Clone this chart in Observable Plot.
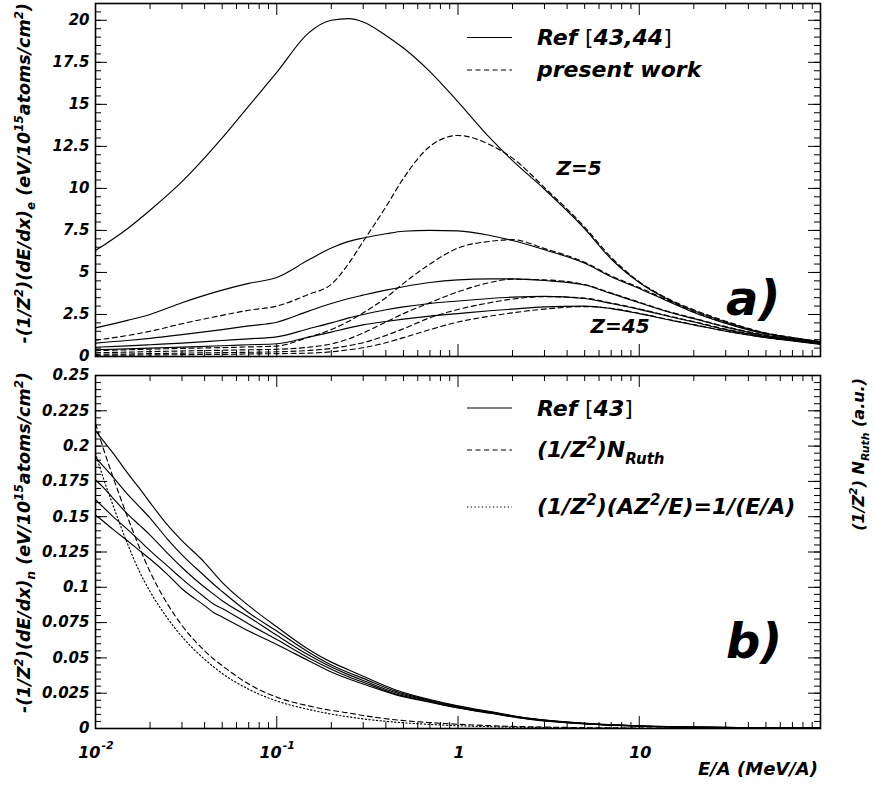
<!DOCTYPE html>
<html><head><meta charset="utf-8">
<script src="https://cdn.jsdelivr.net/npm/d3@7"></script>
<script src="https://cdn.jsdelivr.net/npm/@observablehq/plot@0.6"></script>
<style>
body{margin:0;background:#fff;}
#fig{position:relative;width:874px;height:787px;overflow:hidden;background:#fff;}
#fig svg{position:absolute;left:0;}
</style></head><body><div id="fig"></div>
<script>
// ---------- DATA ----------
// Panel a) electronic stopping, E/A grid (MeV/A)
const energyTop = [0.01,0.015,0.02,0.03,0.05,0.07,0.1,0.15,0.2,0.25,0.3,0.4,0.5,0.7,1,1.5,2,3,5,7,10,15,20,30,50,70,100];
const refZ5  = [6.3,7.6,8.7,10.4,13.0,14.9,16.9,19.25,20.0,20.1,19.9,19.1,18.35,16.95,15.15,13.0,11.65,9.95,7.6,5.8,4.4,3.3,2.72,2.05,1.38,1.12,0.88];
const refZ10 = [1.7,2.15,2.5,3.2,3.95,4.35,4.7,5.75,6.45,6.85,7.05,7.3,7.45,7.5,7.47,7.2,6.9,6.35,5.55,4.75,4.05,3.2,2.62,1.97,1.34,1.08,0.85];
const refZ20 = [0.8,0.95,1.08,1.3,1.6,1.82,2.04,2.7,3.15,3.45,3.65,3.95,4.15,4.4,4.56,4.62,4.62,4.52,4.25,3.75,3.2,2.6,2.25,1.75,1.25,1.02,0.8];
const refZ30 = [0.55,0.63,0.7,0.8,0.95,1.05,1.17,1.65,2.0,2.3,2.5,2.78,2.95,3.15,3.3,3.45,3.53,3.58,3.45,3.15,2.8,2.35,2.05,1.6,1.18,0.97,0.76];
const refZ45 = [0.4,0.45,0.5,0.56,0.64,0.7,0.76,1.15,1.45,1.7,1.88,2.08,2.22,2.4,2.55,2.72,2.82,2.95,3.0,2.85,2.55,2.15,1.88,1.5,1.12,0.93,0.72];
const presZ5  = [0.97,1.25,1.5,1.95,2.45,2.75,3.0,3.7,4.3,5.55,6.85,8.9,10.6,12.5,13.15,12.6,11.8,10.05,7.7,5.9,4.45,3.35,2.78,2.1,1.4,1.13,0.88];
const presZ10 = [0.35,0.4,0.44,0.48,0.53,0.57,0.62,1.15,1.6,2.1,2.6,3.5,4.35,5.5,6.45,6.85,6.95,6.42,5.6,4.8,4.1,3.25,2.66,2.0,1.36,1.1,0.86];
const presZ20 = [0.22,0.26,0.29,0.33,0.37,0.4,0.43,0.55,0.75,1.05,1.4,2.05,2.55,3.2,3.85,4.4,4.6,4.56,4.28,3.78,3.23,2.63,2.28,1.78,1.27,1.03,0.81];
const presZ30 = [0.13,0.15,0.17,0.2,0.23,0.25,0.28,0.36,0.48,0.65,0.82,1.25,1.65,2.3,2.8,3.2,3.42,3.56,3.47,3.18,2.83,2.38,2.08,1.63,1.2,0.98,0.77];
const presZ45 = [0.07,0.08,0.09,0.11,0.13,0.15,0.17,0.2,0.28,0.4,0.52,0.82,1.12,1.6,2.05,2.4,2.6,2.82,2.97,2.87,2.57,2.17,1.9,1.52,1.13,0.94,0.73];

// Panel b) nuclear stopping
const energyBottom = [0.01,0.011,0.0125,0.015,0.0175,0.02,0.025,0.03,0.04,0.045,0.05,0.07,0.1,0.15,0.2,0.25,0.3,0.45,0.7,1,1.5,2.5,5,10,20,50,100];
const nuc1 = [0.211,0.204,0.195,0.181,0.170,0.160,0.144,0.133,0.1175,0.110,0.1035,0.087,0.072,0.056,0.047,0.0415,0.037,0.0275,0.0205,0.016,0.012,0.0072,0.0037,0.0019,0.001,0.00045,0.00025];
const nuc2 = [0.192,0.186,0.178,0.166,0.157,0.149,0.134,0.123,0.108,0.102,0.097,0.082,0.069,0.054,0.045,0.0395,0.0355,0.0265,0.020,0.0156,0.0117,0.0070,0.0036,0.00185,0.00097,0.00044,0.00024];
const nuc3 = [0.176,0.171,0.163,0.152,0.144,0.137,0.124,0.114,0.100,0.095,0.0905,0.079,0.066,0.052,0.0435,0.038,0.034,0.0255,0.0195,0.0152,0.0114,0.0068,0.0035,0.0018,0.00095,0.00043,0.00023];
const nuc4 = [0.162,0.157,0.150,0.141,0.133,0.126,0.115,0.106,0.093,0.088,0.085,0.074,0.063,0.050,0.042,0.0365,0.0328,0.0245,0.019,0.0148,0.0111,0.0066,0.0034,0.00175,0.00093,0.00042,0.00023];
const nuc5 = [0.151,0.147,0.141,0.133,0.126,0.120,0.109,0.099,0.087,0.082,0.079,0.069,0.0595,0.048,0.040,0.035,0.0315,0.024,0.0186,0.0145,0.0108,0.0065,0.0033,0.0017,0.0009,0.0004,0.00022];
const ruthN  = [0.216,0.199,0.178,0.150,0.128,0.111,0.088,0.073,0.055,0.049,0.0445,0.0315,0.0222,0.016,0.0128,0.011,0.0092,0.0062,0.0042,0.003,0.002,0.0012,0.0006,0.0003,0.00015,0.00006,0.00003];
const inverseE = [0.195,0.178,0.158,0.131,0.111,0.097,0.078,0.065,0.049,0.0435,0.039,0.0278,0.0195,0.0135,0.0102,0.0082,0.0068,0.0045,0.0029,0.002,0.0013,0.0008,0.0004,0.0002,0.0001,0.00004,0.00002];

// axes / labels
const xDomain = [0.01, 100];
const xLabelValues = [0.01, 0.1, 1, 10];
const xLabelBase = ["10", "10", "1", "10"];
const xLabelExp  = ["-2", "-1", "", ""];
const yTopDomain = [0, 21];
const yTopLabels = [0, 2.5, 5, 7.5, 10, 12.5, 15, 17.5, 20];
const yBotDomain = [0, 0.25];
const yBotLabels = [0, 0.025, 0.05, 0.075, 0.1, 0.125, 0.15, 0.175, 0.2, 0.225, 0.25];
const topNotes = [{E: 3.5, v: 10.77, text: "Z=5"}, {E: 5.38, v: 1.37, text: "Z=45"}];
const panelTagTop = [{E: 30.1, v: 2.44, text: "a)"}];
const panelTagBot = [{E: 30.1, v: 0.0496, text: "b)"}];

// ---------- build tables ----------
const toRows = (xs, ys, s) => xs.map((E, i) => ({E, v: ys[i], s}));
const topRef = [refZ5, refZ10, refZ20, refZ30, refZ45].flatMap((ys, k) => toRows(energyTop, ys, "r" + k));
const topPres = [presZ5, presZ10, presZ20, presZ30, presZ45].flatMap((ys, k) => toRows(energyTop, ys, "p" + k));
const botRef = [nuc1, nuc2, nuc3, nuc4, nuc5].flatMap((ys, k) => toRows(energyBottom, ys, "n" + k));
const botRuth = toRows(energyBottom, ruthN, "ruth");
const botInv = toRows(energyBottom, inverseE, "inv");

const xMajor = [0.01, 0.1, 1, 10, 100];
const xMinor = [];
for (const d of [0.01, 0.1, 1, 10]) for (let m = 2; m <= 9; m++) xMinor.push(+(d * m).toPrecision(3));
const stepTicks = (lo, hi, step) => d3.range(Math.round((hi - lo) / step) + 1).map(i => +(lo + i * step).toFixed(6));

const W = 874, mL = 95, mR = 54;
const font = "font-family:'DejaVu Sans';font-weight:bold;font-style:italic;";

function frameTicks(innerW, innerH, yMaj, yMin) {
  const L = 12, l = 6, sw = 1;
  return [
    Plot.tickX(xMajor, {x: d => d, insetTop: innerH - L, stroke: "black", strokeWidth: sw}),
    Plot.tickX(xMajor, {x: d => d, insetBottom: innerH - L, stroke: "black", strokeWidth: sw}),
    Plot.tickX(xMinor, {x: d => d, insetTop: innerH - l, stroke: "black", strokeWidth: sw}),
    Plot.tickX(xMinor, {x: d => d, insetBottom: innerH - l, stroke: "black", strokeWidth: sw}),
    Plot.tickY(yMaj, {y: d => d, insetRight: innerW - L, stroke: "black", strokeWidth: sw}),
    Plot.tickY(yMaj, {y: d => d, insetLeft: innerW - L, stroke: "black", strokeWidth: sw}),
    Plot.tickY(yMin, {y: d => d, insetRight: innerW - l, stroke: "black", strokeWidth: sw}),
    Plot.tickY(yMin, {y: d => d, insetLeft: innerW - l, stroke: "black", strokeWidth: sw})
  ];
}
const yLabelMark = (labels) => Plot.text(labels, {y: d => d, text: d => String(d), frameAnchor: "left", textAnchor: "end", dx: -6, fontSize: 15, fill: "black"});
const lineOpts = {x: "E", y: "v", z: "s", stroke: "black", strokeWidth: 1.15, curve: "monotone-x"};

// ---------- top panel ----------
const topH = 365, topMT = 3, topMB = 9;
const topInnerW = W - mL - mR, topInnerH = topH - topMT - topMB;
const topPlot = Plot.plot({
  width: W, height: topH, marginLeft: mL, marginRight: mR, marginTop: topMT, marginBottom: topMB,
  style: font + "background:transparent;",
  x: {type: "log", domain: xDomain, axis: null},
  y: {domain: yTopDomain, axis: null},
  marks: [
    Plot.line(topRef, lineOpts),
    Plot.line(topPres, {...lineOpts, strokeDasharray: "5,3.5"}),
    ...frameTicks(topInnerW, topInnerH, stepTicks(0, 20, 2.5), stepTicks(0, 21, 0.5)),
    Plot.frame({stroke: "black", strokeWidth: 1.6}),
    yLabelMark(yTopLabels),
    Plot.text(topNotes, {x: "E", y: "v", text: "text", textAnchor: "start", lineAnchor: "bottom", fontSize: 20, fill: "black"}),
    Plot.text(panelTagTop, {x: "E", y: "v", text: "text", textAnchor: "start", lineAnchor: "bottom", fontSize: 48, fill: "black"})
  ]
});
topPlot.style.top = "0px";

// ---------- bottom panel ----------
const botH = 422, botMT = 10, botMB = 59;
const botInnerW = W - mL - mR, botInnerH = botH - botMT - botMB;
const xLabelRows = xLabelValues.map((x, i) => ({x, base: xLabelBase[i], exp: xLabelExp[i]}));
const botPlot = Plot.plot({
  width: W, height: botH, marginLeft: mL, marginRight: mR, marginTop: botMT, marginBottom: botMB,
  style: font + "background:transparent;",
  x: {type: "log", domain: xDomain, axis: null},
  y: {domain: yBotDomain, axis: null},
  marks: [
    Plot.line(botRef, lineOpts),
    Plot.line(botRuth, {...lineOpts, strokeDasharray: "5,3.5"}),
    Plot.line(botInv, {...lineOpts, strokeDasharray: "1.3,2.4"}),
    ...frameTicks(botInnerW, botInnerH, stepTicks(0, 0.25, 0.025), stepTicks(0, 0.25, 0.005)),
    Plot.frame({stroke: "black", strokeWidth: 1.6}),
    yLabelMark(yBotLabels),
    Plot.text(xLabelRows.filter(d => d.exp), {x: "x", text: "base", frameAnchor: "bottom", textAnchor: "end", lineAnchor: "bottom", dx: 5, dy: 29, fontSize: 16, fill: "black"}),
    Plot.text(xLabelRows.filter(d => d.exp), {x: "x", text: "exp", frameAnchor: "bottom", textAnchor: "start", lineAnchor: "bottom", dx: 6, dy: 20, fontSize: 11, fill: "black"}),
    Plot.text(xLabelRows.filter(d => !d.exp), {x: "x", text: "base", frameAnchor: "bottom", textAnchor: "middle", lineAnchor: "bottom", dx: 1, dy: 29, fontSize: 16, fill: "black"}),
    Plot.text(panelTagBot, {x: "E", y: "v", text: "text", textAnchor: "start", lineAnchor: "bottom", fontSize: 48, fill: "black"})
  ]
});
botPlot.style.top = "365px";

const fig = document.getElementById("fig");
fig.appendChild(topPlot);
fig.appendChild(botPlot);

// ---------- overlay: axis titles & legends ----------
const ov = d3.select(fig).append("svg").attr("width", W).attr("height", 787)
  .style("top", "0px").style("pointer-events", "none")
  .attr("font-family", "DejaVu Sans").attr("font-weight", "bold").attr("font-style", "italic").attr("fill", "black");

function rich(x, y, parts, size, anchor = "start", rotate = 0) {
  const t = ov.append("text").attr("transform", `translate(${x},${y}) rotate(${rotate})`)
    .attr("text-anchor", anchor).attr("font-size", size);
  let shift = 0;
  for (const p of parts) {
    const s = typeof p === "string" ? {t: p} : p;
    const target = s.sup ? -0.42 * size : s.sub ? 0.3 * size : 0;
    const ts = t.append("tspan").text(s.t).attr("dy", (target - shift).toFixed(2));
    if (s.sup || s.sub) ts.attr("font-size", (size * 0.68).toFixed(1));
    if (s.plain) ts.attr("font-weight", "normal").attr("font-style", "normal");
    shift = target;
  }
}
const sup = t => ({t, sup: true}), sub = t => ({t, sub: true}), plain = t => ({t, plain: true});

rich(30, 3, ["-(1/Z", sup("2"), ")(dE/dx)", sub("e"), " (eV/10", sup("15"), "atoms/cm", sup("2"), ")"], 17.5, "end", -90);
rich(30, 372, ["-(1/Z", sup("2"), ")(dE/dx)", sub("n"), " (eV/10", sup("15"), "atoms/cm", sup("2"), ")"], 17.5, "end", -90);
rich(864, 378, ["(1/Z", sup("2"), ") N", sub("Ruth"), " (a.u.)"], 16, "end", -90);
rich(818, 775, ["E/A (MeV/A)"], 18, "end");

// legends
function sample(y, dash) {
  const l = ov.append("line").attr("x1", 467).attr("x2", 512).attr("y1", y).attr("y2", y)
    .attr("stroke", "black").attr("stroke-width", 1.15);
  if (dash) l.attr("stroke-dasharray", dash);
}
sample(37.5, null);
rich(537, 45, ["Ref ", plain("["), "43,44", plain("]")], 22);
sample(70, "5,3.5");
rich(537, 77, ["present work"], 22);

sample(408, null);
rich(537, 416, ["Ref ", plain("["), "43", plain("]")], 22);
sample(450, "5,3.5");
rich(537, 457, ["(1/Z", sup("2"), ")N", sub("Ruth")], 22);
sample(507, "1.3,2.4");
rich(537, 514, ["(1/Z", sup("2"), ")(AZ", sup("2"), "/E)=1/(E/A)"], 22);
</script></body></html>
